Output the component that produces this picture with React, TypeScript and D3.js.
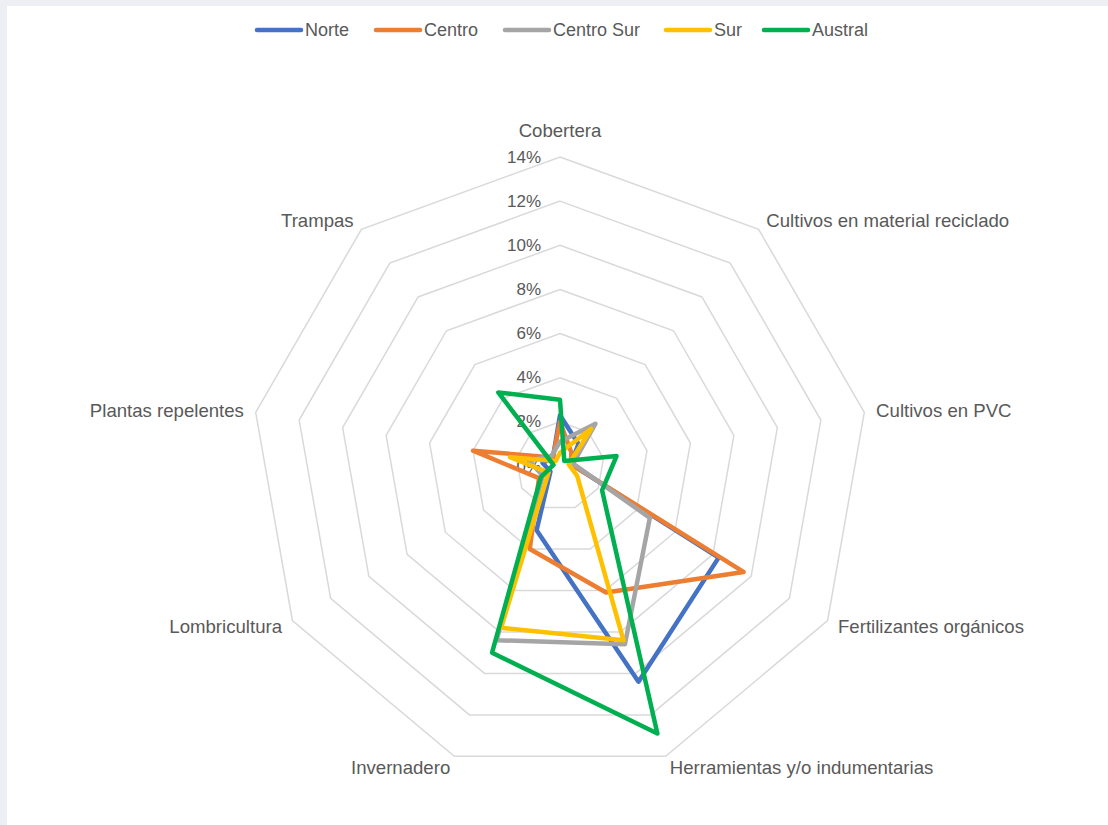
import React from 'react';
import * as d3 from 'd3';

const categories = [
  'Cobertera',
  'Cultivos en material reciclado',
  'Cultivos en PVC',
  'Fertilizantes orgánicos',
  'Herramientas y/o indumentarias',
  'Invernadero',
  'Lombricultura',
  'Plantas repelentes',
  'Trampas',
];

const seriesNames = ['Norte', 'Centro', 'Centro Sur', 'Sur', 'Austral'];
const seriesColors = ['#4472C4', '#ED7D31', '#A5A5A5', '#FFC000', '#00B050'];

// percentages per category, same order as categories
const norte = [2.3, 1.3, 0.5, 8.3, 10.4, 3.1, 0.5, 0.8, 0.5];
const centro = [2.0, 0.8, 0.5, 9.6, 6.1, 4.0, 1.1, 4.0, 0.5];
const centroSur = [1.1, 2.5, 0.6, 4.7, 8.6, 8.4, 0.9, 1.4, 0.6];
const sur = [0.6, 2.2, 0.4, 0.9, 8.4, 7.8, 0.6, 2.3, 0.3];
const austral = [3.0, 0.3, 2.6, 2.2, 12.9, 9.0, 1.0, 0.3, 4.35];

const tickValues = [0, 2, 4, 6, 8, 10, 12, 14];

const W = 1108;
const H = 825;
const cx = 560;
const cy = 466;
const R = 309;
const FONT = "'Liberation Sans', Arial, sans-serif";
const TEXT = '#595959';

export default function App() {
  const seriesData = [norte, centro, centroSur, sur, austral];
  const n = categories.length;
  const angle = (i: number) => (i * 2 * Math.PI) / n;

  const r = d3.scaleLinear().domain([0, 14]).range([0, R]);

  const radar = d3
    .lineRadial<number>()
    .angle((_, i) => angle(i))
    .radius((d) => r(d))
    .curve(d3.curveLinearClosed);

  // legend layout
  const legendX = [255, 374, 503, 664, 762];
  const legendY = 30;

  return (
    <svg
      width={W}
      height={H}
      style={{ position: 'absolute', left: 0, top: 0, display: 'block' }}
    >
      <rect x={0} y={0} width={W} height={H} fill="#EEEFF4" />
      <rect x={7} y={6} width={W - 7} height={H - 6} fill="#ffffff" />

      {/* legend */}
      <g fontFamily={FONT} fontSize={18} fill={TEXT}>
        {seriesNames.map((name, i) => (
          <g key={name} transform={`translate(${legendX[i]},${legendY})`}>
            <line
              x1={2}
              x2={46}
              y1={0}
              y2={0}
              stroke={seriesColors[i]}
              strokeWidth={4.5}
              strokeLinecap="round"
            />
            <text x={50} y={0} dominantBaseline="central">
              {name}
            </text>
          </g>
        ))}
      </g>

      <g transform={`translate(${cx},${cy})`}>
        {/* rings */}
        {tickValues.slice(1).map((t) => (
          <path
            key={t}
            d={radar(categories.map(() => t)) || ''}
            fill="none"
            stroke="#D9D9D9"
            strokeWidth={1.5}
          />
        ))}

        {/* tick labels */}
        <g fontFamily={FONT} fontSize={17} fill={TEXT} textAnchor="end">
          {tickValues.map((t) => (
            <text key={t} x={-19} y={-r(t)} dominantBaseline="central">
              {t}%
            </text>
          ))}
        </g>

        {/* category labels */}
        <g fontFamily={FONT} fontSize={18.6} fill={TEXT}>
          {categories.map((c, i) => {
            const a = angle(i);
            const s = Math.sin(a);
            const top = Math.abs(s) < 0.01;
            const d = top ? R + 27 : R + 12;
            const anchor = top ? 'middle' : s > 0 ? 'start' : 'end';
            return (
              <text
                key={c}
                x={Math.sin(a) * d}
                y={-Math.cos(a) * d}
                textAnchor={anchor}
                dominantBaseline="central"
              >
                {c}
              </text>
            );
          })}
        </g>

        {/* series */}
        {seriesData.map((vals, i) => (
          <path
            key={seriesNames[i]}
            d={radar(vals) || ''}
            fill="none"
            stroke={seriesColors[i]}
            strokeWidth={4.5}
            strokeLinejoin="round"
          />
        ))}
      </g>
    </svg>
  );
}
